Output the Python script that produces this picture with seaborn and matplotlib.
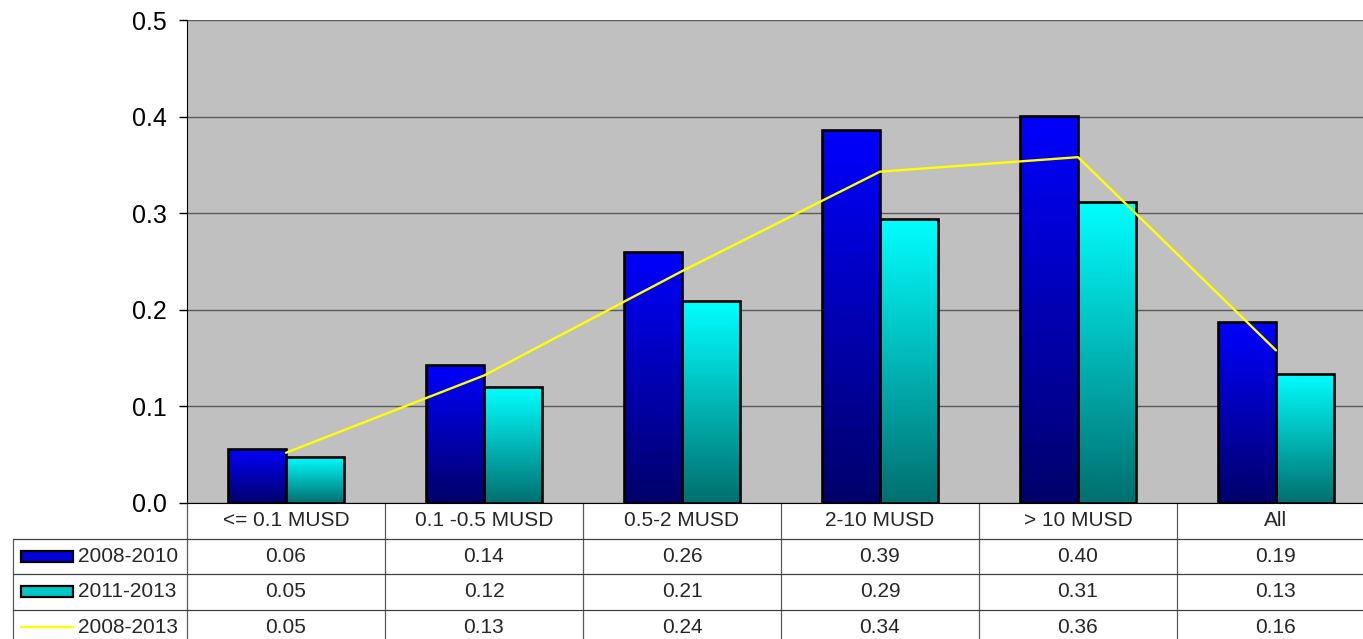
import numpy as np
import pandas as pd
import matplotlib
matplotlib.use("Agg")
import matplotlib.pyplot as plt
import seaborn as sns
from matplotlib.colors import LinearSegmentedColormap
from matplotlib.transforms import blended_transform_factory
from matplotlib.patches import Rectangle

categories = ["<= 0.1 MUSD", "0.1 -0.5 MUSD", "0.5-2 MUSD", "2-10 MUSD", "> 10 MUSD", "All"]
series_names = ["2008-2010", "2011-2013", "2008-2013"]
vals_0810 = [0.056, 0.143, 0.260, 0.386, 0.401, 0.187]
vals_1113 = [0.048, 0.120, 0.209, 0.294, 0.312, 0.134]
vals_0813 = [0.052, 0.132, 0.240, 0.343, 0.358, 0.158]
yticks = [0.0, 0.1, 0.2, 0.3, 0.4, 0.5]

sns.set_style("white")
plt.rcParams["font.family"] = ["Liberation Sans", "DejaVu Sans"]

df = pd.DataFrame({
    "category": categories * 2,
    "period": [series_names[0]] * 6 + [series_names[1]] * 6,
    "value": vals_0810 + vals_1113,
})

W, H = 1363, 639
fig = plt.figure(figsize=(W / 100, H / 100), dpi=100)
# plot area runs a little past the right edge of the picture
ax = fig.add_axes([187 / W, 136 / H, 1188 / W, 483 / H])
ax.set_facecolor("#c0c0c0")

bar_colors = ["#0000ff", "#00ffff"]
sns.barplot(data=df, x="category", y="value", hue="period", order=categories,
            hue_order=series_names[:2], palette=bar_colors, width=0.59,
            edgecolor="black", linewidth=1.9, legend=False, ax=ax, zorder=3)

# vertical gradient fill inside each bar
cmaps = {
    "b": LinearSegmentedColormap.from_list("blue_grad", ["#00006a", "#0000ff"]),
    "c": LinearSegmentedColormap.from_list("cyan_grad", ["#006f6f", "#00ffff"]),
}
grad = np.linspace(0, 1, 256).reshape(-1, 1)
for p in list(ax.patches):
    fc = p.get_facecolor()
    key = "c" if fc[1] > 0.5 else "b"
    x0, y0 = p.get_x(), p.get_y()
    w, h = p.get_width(), p.get_height()
    im = ax.imshow(grad, extent=[x0, x0 + w, y0, y0 + h], origin="lower",
                   aspect="auto", cmap=cmaps[key], zorder=2.9)
    im.set_clip_path(p)
    p.set_facecolor("none")

sns.lineplot(x=np.arange(len(categories)), y=vals_0813, color="#ffff00",
             linewidth=1.7, ax=ax, zorder=4)

ax.set_xlim(-0.5, len(categories) - 0.5)
ax.set_ylim(0, 0.5)
ax.set_yticks(yticks)
ax.set_yticklabels([f"{t:.1f}" for t in yticks])
ax.set_xticks([])
ax.set_xlabel("")
ax.set_ylabel("")
ax.set_axisbelow(True)
ax.yaxis.grid(True, color="#5a5a5a", linewidth=1)
for s in ["top", "right"]:
    ax.spines[s].set_visible(False)
ax.spines["left"].set_color("black")
ax.spines["bottom"].set_color("black")
ax.tick_params(axis="y", left=True, direction="out", length=5.5, width=1,
               labelsize=18, pad=9, colors="black")

# data table under the plot
trans = blended_transform_factory(ax.transData, ax.transAxes)
px = 1 / 198  # data units per pixel along x
rh = 35.5 / 483  # row height in axes fraction
x_left = -0.5 - 174 * px
n = len(categories)
vline_kw = dict(transform=trans, clip_on=False, color="#5a5a5a", linewidth=0.9)
hline_kw = dict(transform=trans, clip_on=False, color="#404040", linewidth=0.9)
for k in range(n + 1):
    ax.plot([k - 0.5, k - 0.5], [0, -4 * rh], **vline_kw)
ax.plot([x_left, x_left], [-rh, -4 * rh], **vline_kw)
for r in range(1, 4):
    ax.plot([x_left, n - 0.5], [-r * rh, -r * rh], **hline_kw)

tfs = 15
for i, c in enumerate(categories):
    ax.text(i, -rh / 2, c, transform=trans, ha="center", va="center", fontsize=tfs)

rows = [vals_0810, vals_1113, vals_0813]
for r, vals in enumerate(rows):
    yc = -(r + 1.5) * rh
    for i, v in enumerate(vals):
        ax.text(i, yc, f"{v:.2f}", transform=trans, ha="center", va="center", fontsize=tfs)
    ax.text(-0.5 - 109 * px, yc, series_names[r], transform=trans,
            ha="left", va="center", fontsize=tfs)

key_x0, key_x1 = -0.5 - 166 * px, -0.5 - 114 * px
key_h = 11 / 483
for r, col in enumerate(["#0000d8", "#00c8c8"]):
    yc = -(r + 1.5) * rh
    ax.add_patch(Rectangle((key_x0, yc - key_h / 2), key_x1 - key_x0, key_h,
                           transform=trans, clip_on=False, facecolor=col,
                           edgecolor="black", linewidth=1.6))
ax.plot([key_x0, key_x1], [-3.5 * rh, -3.5 * rh], transform=trans, clip_on=False,
        color="#ffff00", linewidth=1.7)

fig.savefig("out.png", dpi=100)
